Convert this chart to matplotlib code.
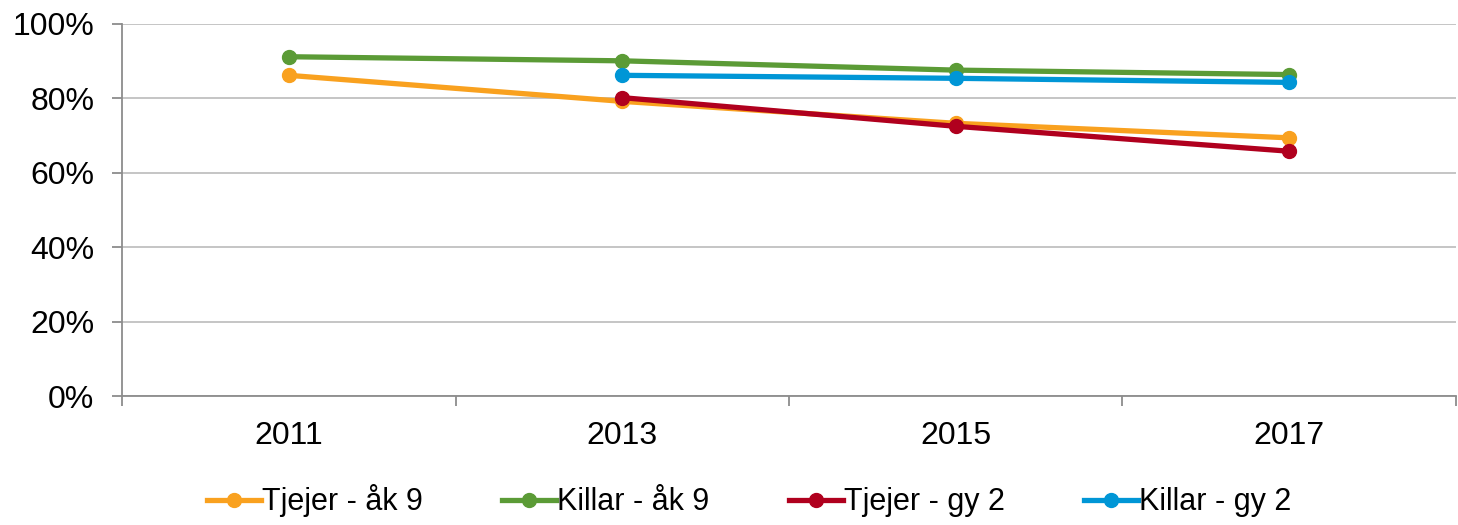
import matplotlib.pyplot as plt
import numpy as np

years = ['2011', '2013', '2015', '2017']
tjejer_ak9 = [86.2, 79.2, 73.3, 69.4]
killar_ak9 = [91.2, 90.1, 87.6, 86.4]
tjejer_gy2 = [np.nan, 80.2, 72.5, 65.8]
killar_gy2 = [np.nan, 86.2, 85.4, 84.3]

series = [
    ('Tjejer - åk 9', tjejer_ak9, '#F9A11F'),
    ('Killar - åk 9', killar_ak9, '#5B9B36'),
    ('Tjejer - gy 2', tjejer_gy2, '#B0001E'),
    ('Killar - gy 2', killar_gy2, '#0096D6'),
]

plt.rcParams['font.family'] = ['Liberation Sans', 'DejaVu Sans']

fig = plt.figure(figsize=(14.58, 5.25), dpi=100)
ax = fig.add_axes([0.0837, 0.2457, 0.9149, 0.7086])

x = np.arange(len(years))
for label, vals, col in series:
    ax.plot(x, vals, '-o', color=col, lw=3.8, markersize=10, label=label)

ax.set_xlim(-0.5, 3.5)
ax.set_ylim(0, 100)
ax.set_yticks(np.arange(0, 101, 20))
ax.set_yticklabels([f'{v}%' for v in range(0, 101, 20)], fontsize=23)
ax.set_xticks(x)
ax.set_xticklabels(years, fontsize=23)
ax.tick_params(axis='x', which='major', length=0, pad=18)
ax.set_xticks(np.arange(-0.5, 3.6, 1), minor=True)
ax.tick_params(axis='x', which='minor', length=7, width=1.3, color='#8c8c8c')
ax.tick_params(axis='y', length=7, width=1.3, color='#8c8c8c', pad=13)
ax.grid(axis='y', color='#c0c0c0', lw=1.3)
ax.set_axisbelow(True)
for s in ['top', 'right']:
    ax.spines[s].set_visible(False)
for s in ['left', 'bottom']:
    ax.spines[s].set_color('#8c8c8c')
    ax.spines[s].set_linewidth(1.3)

fig.legend(loc='lower center', bbox_to_anchor=(0.514, -0.038), ncol=4, frameon=False,
           fontsize=22, handlelength=1.75, handletextpad=0.05, columnspacing=2.6)

plt.savefig('out.png', dpi=100)
